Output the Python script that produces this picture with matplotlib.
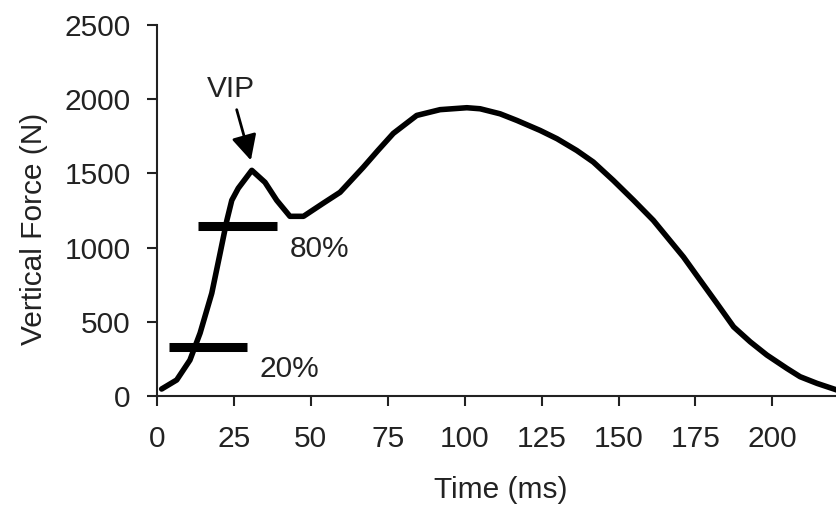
import matplotlib
matplotlib.use("Agg")
import matplotlib.pyplot as plt

# curva de fuerza vertical
time_ms = [1.5, 6.4, 10.7, 14.0, 17.8, 20.5, 22.7, 24.3, 26.4, 30.8, 35.1, 38.9,
           43.2, 47.6, 54.0, 59.5, 67.0, 71.8, 76.8, 84.4, 92.0, 100.7, 105.0,
           111.5, 117.0, 124.5, 130.0, 136.4, 141.8, 148.3, 154.9, 161.3, 171.1,
           176.5, 181.9, 187.4, 192.8, 198.2, 204.7, 209.0, 214.5, 221.0]
force_N = [47, 108, 242, 424, 693, 962, 1184, 1319, 1400, 1521, 1440, 1319,
           1211, 1211, 1299, 1373, 1541, 1655, 1770, 1891, 1930, 1943, 1936,
           1902, 1857, 1790, 1734, 1655, 1577, 1453, 1319, 1184, 937,
           781, 626, 466, 365, 276, 186, 130, 85, 40]

# barras de 20% y 80%
bar_labels = ["20%", "80%"]
bar_level = [332, 1144]
bar_start = [4.0, 13.4]
bar_end = [29.4, 38.9]

xticks = [0, 25, 50, 75, 100, 125, 150, 175, 200]
yticks = [0, 500, 1000, 1500, 2000, 2500]

plt.rcParams['font.family'] = ['Liberation Sans', 'DejaVu Sans']
fs = 21.5
tc = '#222222'

fig = plt.figure(figsize=(8.37, 5.12), dpi=100)
ax = fig.add_axes([0.1876, 0.2266, 0.8124, 0.7244])

ax.plot(time_ms, force_N, color='black', lw=4.0, solid_joinstyle='round',
        solid_capstyle='round', clip_on=False)

for lab, lev, x0, x1, dx in zip(bar_labels, bar_level, bar_start, bar_end, [4, 4.3]):
    ax.plot([x0, x1], [lev, lev], color='black', lw=6.5, solid_capstyle='butt')
    ax.text(x1 + dx, lev - 150, lab, fontsize=fs, color=tc,
            ha='left', va='center')

ax.annotate('VIP', xy=(30.5, 1588), xytext=(24.0, 2070), fontsize=fs,
            color=tc, ha='center', va='center',
            arrowprops=dict(arrowstyle='-|>,head_length=0.7,head_width=0.35',
                            color='black', lw=2.0,
                            mutation_scale=22, shrinkA=3, shrinkB=0))

ax.set_xlim(0, 221)
ax.set_ylim(0, 2500)
ax.set_xticks(xticks)
ax.set_yticks(yticks)
ax.spines['top'].set_visible(False)
ax.spines['right'].set_visible(False)
for s in ['left', 'bottom']:
    ax.spines[s].set_linewidth(1.5)
    ax.spines[s].set_color(tc)
ax.tick_params(axis='both', length=7, width=1.5, color=tc,
               labelsize=fs, labelcolor=tc)
ax.tick_params(axis='x', pad=14)
ax.tick_params(axis='y', pad=12)

ax.set_xlabel('Time (ms)', fontsize=fs, color=tc)
ax.set_ylabel('Vertical Force (N)', fontsize=fs, color=tc)
ax.yaxis.set_label_coords(-0.16, 0.45)
ax.xaxis.set_label_coords(0.505, -0.215)

fig.savefig('out.png', dpi=100)
